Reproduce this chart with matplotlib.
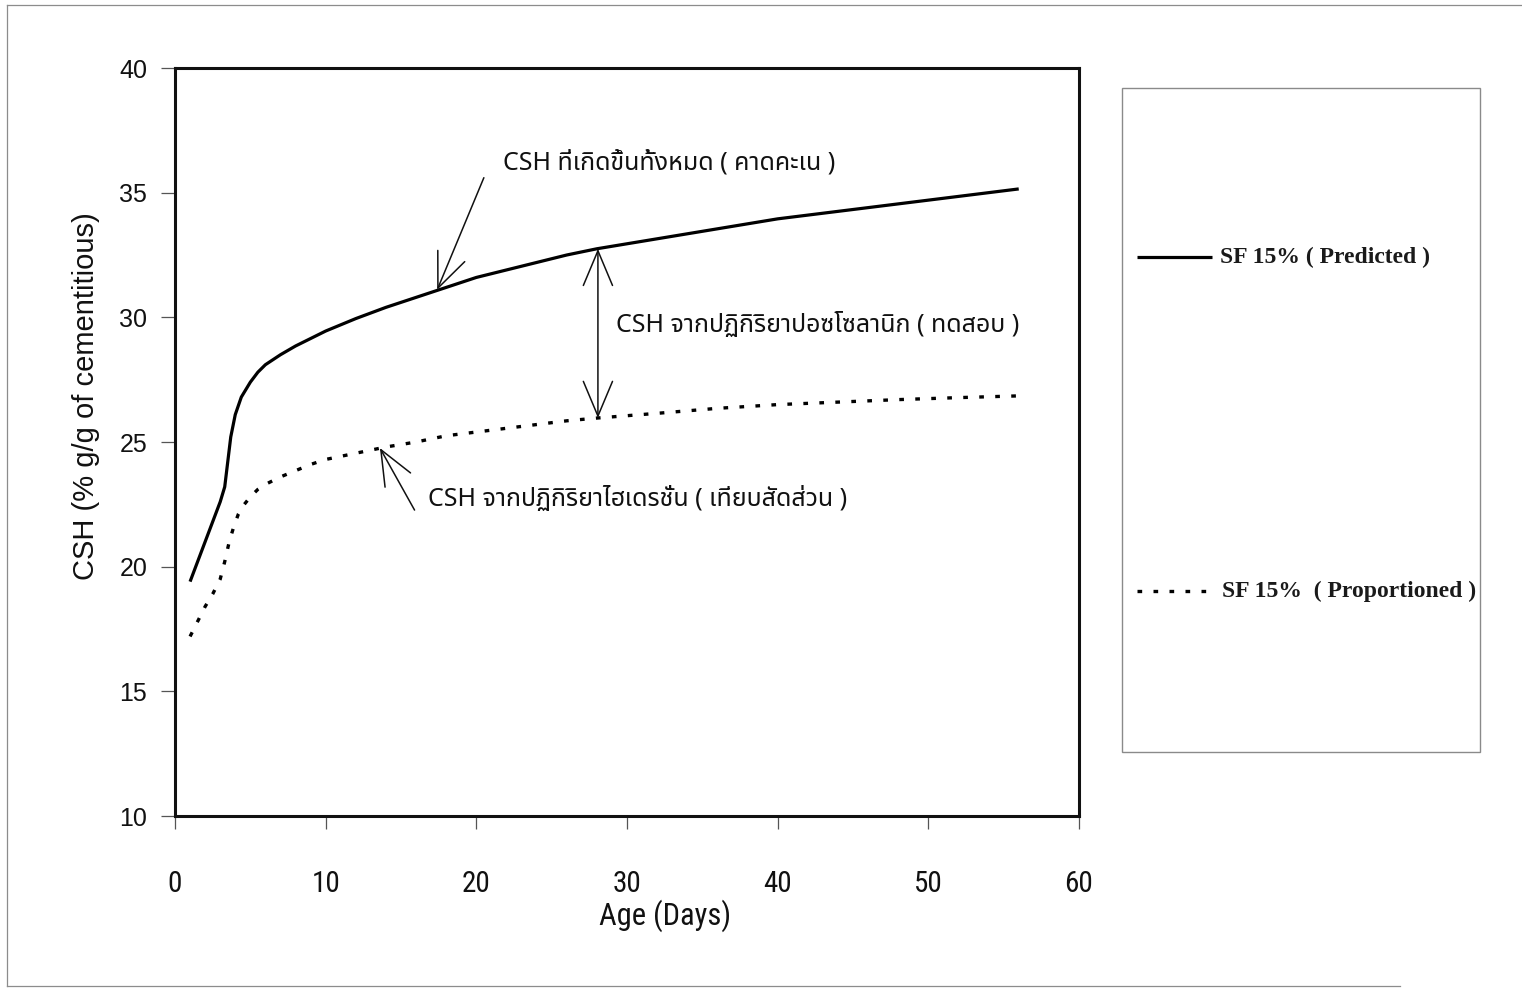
import matplotlib
matplotlib.use("Agg")
import matplotlib.pyplot as plt
from matplotlib import font_manager
from matplotlib.ft2font import FT2Font
from matplotlib.patches import Rectangle
from matplotlib.lines import Line2D

# ---- data -------------------------------------------------------------
age_predicted = [1.0, 2.0, 3.0, 3.3, 3.5, 3.7, 4.0, 4.4, 5.0, 5.5, 6.0, 7.0, 8.0, 9.0,
                 10.0, 12.0, 14.0, 16.0, 18.0, 20.0, 22.0, 24.0, 26.0, 28.0, 31.0,
                 34.0, 37.0, 40.0, 44.0, 48.0, 52.0, 56.0]
csh_predicted = [19.4, 21.0, 22.6, 23.2, 24.2, 25.2, 26.1, 26.8, 27.4, 27.8, 28.1, 28.5,
                 28.85, 29.15, 29.45, 29.95, 30.4, 30.8, 31.2, 31.6, 31.9, 32.2, 32.5,
                 32.75, 33.05, 33.35, 33.65, 33.95, 34.25, 34.55, 34.85, 35.15]

age_proportioned = [1.0, 1.5, 2.0, 2.5, 3.0, 3.3, 3.6, 3.9, 4.2, 4.6, 5.0, 5.5, 6.0, 7.0,
                    8.0, 9.0, 10.0, 12.0, 14.0, 16.0, 18.0, 20.0, 22.0, 24.0, 26.0, 28.0,
                    32.0, 36.0, 40.0, 44.0, 48.0, 52.0, 56.0]
csh_proportioned = [17.2, 17.8, 18.4, 18.9, 19.5, 20.2, 21.0, 21.6, 22.1, 22.5, 22.8, 23.1,
                    23.3, 23.6, 23.85, 24.1, 24.3, 24.55, 24.8, 25.0, 25.25, 25.4, 25.55,
                    25.7, 25.85, 25.96, 26.15, 26.35, 26.5, 26.6, 26.7, 26.78, 26.85]

x_ticks = [0, 10, 20, 30, 40, 50, 60]
y_ticks = [10, 15, 20, 25, 30, 35, 40]

x_title = "Age (Days)"
y_title = "CSH (% g/g of cementitious)"
series_labels = ["SF 15% ( Predicted )", "SF 15%  ( Proportioned )"]

note_total = "CSH ที่เกิดขึ้นทั้งหมด ( คาดคะเน )"
note_pozzolanic = "CSH จากปฏิกิริยาปอซโซลานิก ( ทดสอบ )"
note_hydration = "CSH จากปฏิกิริยาไฮเดรชั่น ( เทียบสัดส่วน )"


# ---- fonts ------------------------------------------------------------
def installed(name):
    return any(f.name == name for f in font_manager.fontManager.ttflist)


def family_with(codepoints, preferred=()):
    for name in preferred:
        if installed(name):
            return name
    for f in font_manager.fontManager.ttflist:
        try:
            cmap = FT2Font(f.fname).get_charmap()
        except Exception:
            continue
        if all(cp in cmap for cp in codepoints):
            return f.name
    return None


def condensed_family(fallback):
    for name in ("Liberation Sans Narrow", "Arial Narrow", "Roboto Condensed",
                 "Open Sans Condensed", "DejaVu Sans Condensed", "Noto Sans Condensed"):
        if installed(name):
            return name
    for f in font_manager.fontManager.ttflist:
        if f.stretch in ("condensed", "semi-condensed") and "Sans" in f.name:
            return f.name
    return fallback


thai_family = family_with([0x0E01, 0x0E34, 0x0E48],
                          preferred=("Noto Sans Thai", "Noto Sans Thai UI", "Loma",
                                     "Garuda", "Norasi", "Tlwg Typo"))
thai_fonts = [thai_family, "DejaVu Sans"] if thai_family else ["DejaVu Sans"]
sans = "Liberation Sans" if installed("Liberation Sans") else "DejaVu Sans"
narrow = condensed_family(sans)
serif = "Liberation Serif" if installed("Liberation Serif") else "DejaVu Serif"
narrow_size = 21 if narrow != sans else 19
narrow_title_size = 22 if narrow != sans else 20

plt.rcParams["font.family"] = [sans]

# ---- figure -----------------------------------------------------------
W, H = 1522, 989
fig = plt.figure(figsize=(W / 100, H / 100), dpi=100)
fig.patch.set_facecolor("white")


def px_rect(x0, y0, x1, y1):
    return [x0 / W, 1 - y1 / H, (x1 - x0) / W, (y1 - y0) / H]


ax = fig.add_axes(px_rect(175, 68, 1079, 816))

predicted_style = dict(color="black", lw=2.3, ls="-", solid_capstyle="butt",
                       solid_joinstyle="round")
proportioned_style = dict(color="black", lw=2.4, ls=(0, (1.4, 3.4)))

ax.plot(age_predicted, csh_predicted, **predicted_style)
ax.plot(age_proportioned, csh_proportioned, **proportioned_style)

ax.set_xlim(0, 60)
ax.set_ylim(10, 40)
ax.set_xticks(x_ticks)
ax.set_yticks(y_ticks)
for s in ax.spines.values():
    s.set_linewidth(2.2)
    s.set_color("#111111")

ax.tick_params(axis="y", direction="out", length=10, width=0.9, color="#555555",
               pad=10, labelsize=18, labelcolor="#111111")
ax.tick_params(axis="x", direction="out", length=9, width=0.9, color="#555555",
               pad=30, labelsize=narrow_size, labelcolor="#111111")
for lab in ax.get_xticklabels():
    lab.set_fontfamily(narrow)

ax.set_xlabel(x_title, fontsize=narrow_title_size, fontfamily=narrow, color="#111111")
ax.xaxis.set_label_coords(0.542, -0.112)
ax.set_ylabel(y_title, fontsize=21, color="#111111")
ax.yaxis.set_label_coords(-0.083, 0.561)

# ---- annotations ------------------------------------------------------
arrow = dict(arrowstyle="->,head_length=2.5,head_width=1.05", lw=1.1, color="#111111",
             shrinkA=0, shrinkB=0)
ax.annotate("", xy=(17.4, 31.1), xytext=(20.5, 35.6), arrowprops=arrow)
ax.text(21.8, 36.2, note_total, fontsize=18, family=thai_fonts, va="center", ha="left",
        color="#111111")

double_arrow = dict(arrowstyle="<->,head_length=2.5,head_width=1.05", lw=1.1,
                    color="#111111", shrinkA=0, shrinkB=0)
ax.annotate("", xy=(28.07, 32.75), xytext=(28.07, 25.96), arrowprops=double_arrow)
ax.text(29.3, 29.7, note_pozzolanic, fontsize=18, family=thai_fonts, va="center",
        ha="left", color="#111111")

ax.annotate("", xy=(13.6, 24.76), xytext=(15.9, 22.27), arrowprops=arrow)
ax.text(16.8, 22.7, note_hydration, fontsize=18, family=thai_fonts, va="center",
        ha="left", color="#111111")

# ---- legend box -------------------------------------------------------
lx0, ly0, lx1, ly1 = 1122, 88, 1480, 752
leg = fig.add_axes(px_rect(lx0, ly0, lx1, ly1))
leg.set_xlim(lx0, lx1)
leg.set_ylim(ly1, ly0)
leg.axis("off")
leg.add_patch(Rectangle((0, 0), 1, 1, transform=leg.transAxes, fill=False,
                        edgecolor="#8a8a8a", lw=1.0, clip_on=False))
entries = [(257, predicted_style, 1220), (591, proportioned_style, 1222)]
for (ypos, style, tx), label in zip(entries, series_labels):
    leg.add_line(Line2D([1137, 1212], [ypos, ypos], **style))
    leg.text(tx, ypos, label, fontsize=17, fontfamily=serif, fontweight="bold",
             va="center", ha="left", color="#1a1a1a")

# ---- page frame -------------------------------------------------------
frame = dict(color="#8c8c8c", lw=0.9, transform=fig.transFigure)
fig.add_artist(Line2D([7 / W, 1], [1 - 5 / H, 1 - 5 / H], **frame))
fig.add_artist(Line2D([7 / W, 7 / W], [1 - 5 / H, 1 - 986 / H], **frame))
fig.add_artist(Line2D([7 / W, 1400 / W], [1 - 986 / H, 1 - 986 / H], **frame))

fig.savefig("out.png", dpi=100, facecolor="white")
